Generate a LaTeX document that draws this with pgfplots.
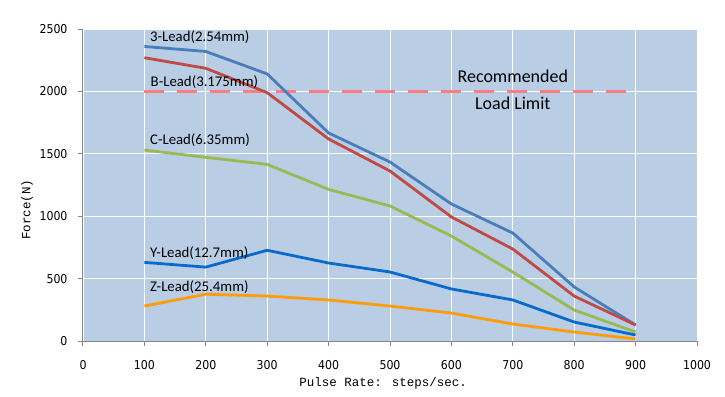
\documentclass[border=0pt]{standalone}
\usepackage{pgfplots}
\pgfplotsset{compat=1.18}
\usepackage{fontspec}
\setmainfont{Carlito}
\newfontfamily\tickfont{DejaVu Sans Condensed}
\newfontfamily\labfont{Liberation Mono}
\definecolor{bgc}{HTML}{B9CDE5}
\definecolor{axc}{HTML}{868686}
\definecolor{cA}{HTML}{4A7EBB}
\definecolor{cB}{HTML}{BE4B48}
\definecolor{cC}{HTML}{98B954}
\definecolor{cY}{HTML}{0A6ACC}
\definecolor{cZ}{HTML}{FF9C0A}
\definecolor{cR}{HTML}{FF7C80}
\begin{document}
\begin{tikzpicture}[x=1bp,y=1bp]
\path[use as bounding box] (-83,-55) rectangle (642,341);
\begin{axis}[
  at={(0,0)}, anchor=south west,
  scale only axis, width=614bp, height=312bp,
  xmin=0, xmax=1000, ymin=0, ymax=2500,
  xtick={0,100,...,1000}, ytick={0,500,...,2500},
  axis x line*=bottom, axis y line*=left,
  axis line style={draw=axc, line width=1bp, -},
  tick style={draw=axc, line width=1bp},
  tick align=outside, major tick length=5bp,
  axis background/.style={fill=bgc},
  grid=major, major grid style={draw=white, line width=0.8bp},
  ticklabel style={font=\tickfont\fontsize{12.2bp}{14bp}\selectfont, text=black},
  xticklabel style={yshift=-11bp},
  yticklabel style={xshift=-7bp},
  /pgf/number format/assume math mode=true,
  /pgf/number format/1000 sep={},
  xlabel={Pulse Rate: steps/sec.},
  ylabel={Force(N)},
  label style={font=\labfont\fontsize{12.5bp}{15bp}\selectfont},
  xlabel style={at={(axis description cs:0.489,-0.135)}, anchor=center},
  ylabel style={at={(axis description cs:-0.091,0.42)}, anchor=center, rotate=0},
  clip=false,
  every axis plot/.append style={line width=2.8bp, line join=round},
]
\addplot[cR, dash pattern=on 20bp off 13bp, line width=3bp] coordinates {(100,2000) (900,2000)};
\addplot[cA] coordinates {(100,2360) (200,2320) (300,2140) (400,1667) (500,1434) (600,1098) (700,865) (800,433) (900,128)};
\addplot[cB] coordinates {(100,2270) (200,2185) (300,1990) (400,1619) (500,1362) (600,994) (700,737) (800,360) (900,128)};
\addplot[cC] coordinates {(100,1530) (200,1472) (300,1415) (400,1215) (500,1082) (600,841) (700,553) (800,248) (900,72)};
\addplot[cY] coordinates {(100,630) (200,592) (300,727) (400,625) (500,553) (600,417) (700,329) (800,152) (900,48)};
\addplot[cZ] coordinates {(100,280) (200,375) (300,360) (400,329) (500,280) (600,224) (700,136) (800,72) (900,16)};
\begin{scope}[every node/.style={font=\fontsize{14.8bp}{17bp}\selectfont, anchor=west, inner sep=0pt}]
\node at (axis cs:109,2436) {3-Lead(2.54mm)};
\node at (axis cs:110,2075) {B-Lead(3.175mm)};
\node at (axis cs:109,1611) {C-Lead(6.35mm)};
\node at (axis cs:109,705) {Y-Lead(12.7mm)};
\node at (axis cs:109,433) {Z-Lead(25.4mm)};
\node[anchor=center, font=\fontsize{18bp}{20bp}\selectfont] at (axis cs:700,2123) {Recommended};
\node[anchor=center, font=\fontsize{18bp}{20bp}\selectfont] at (axis cs:700,1907) {Load Limit};
\end{scope}
\end{axis}
\end{tikzpicture}
\end{document}
